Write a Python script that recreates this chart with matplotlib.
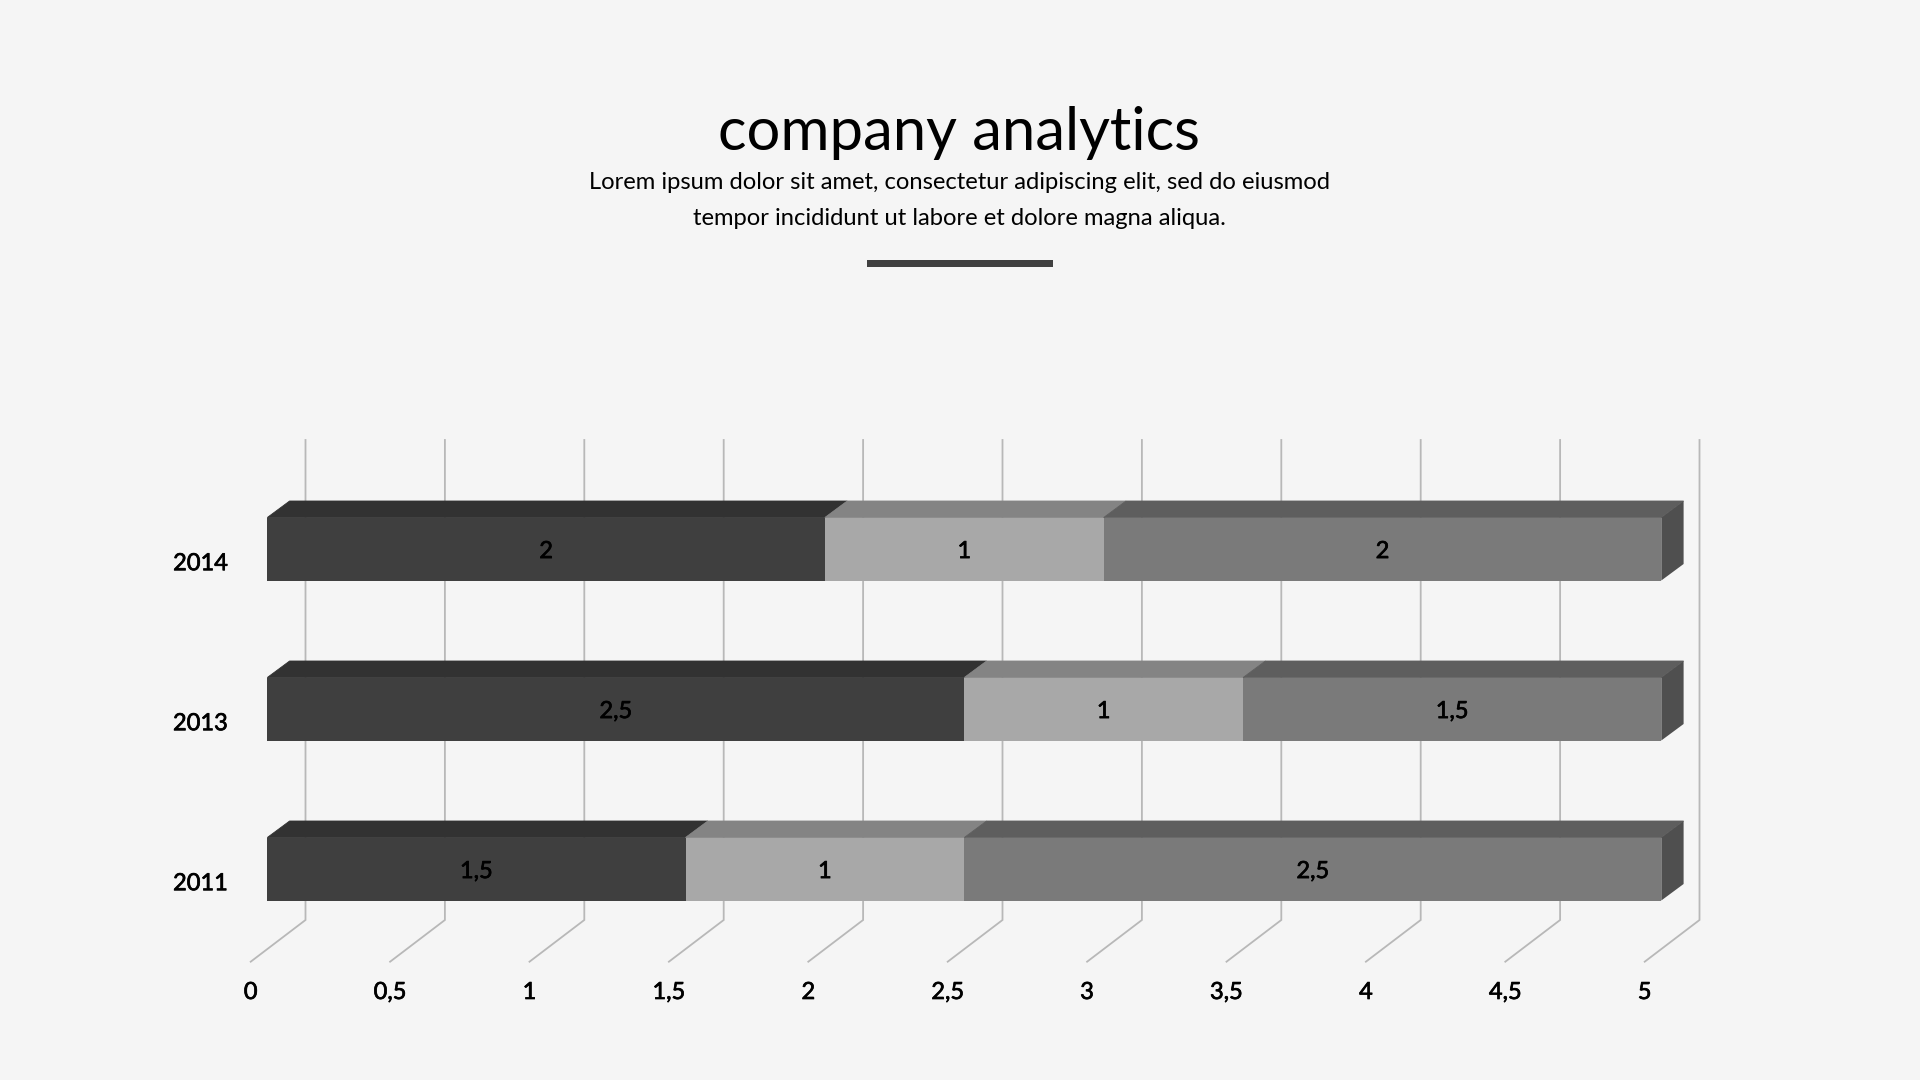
import matplotlib
matplotlib.use('Agg')
import matplotlib.pyplot as plt
import matplotlib.patheffects as pe
from matplotlib.patches import Polygon, Rectangle

years = ['2011', '2013', '2014']
series_a = [1.5, 2.5, 2]
series_b = [1, 1, 1]
series_c = [2.5, 1.5, 2]
tick_values = [0, 0.5, 1, 1.5, 2, 2.5, 3, 3.5, 4, 4.5, 5]

bg = '#f5f5f5'
front_cols = ['#3f3f3f', '#a8a8a8', '#7a7a7a']
top_cols = ['#323232', '#848484', '#5e5e5e']
side_col = '#4f4f4f'
grid_col = '#b8b8b8'

plt.rcParams['font.family'] = ['Lato', 'DejaVu Sans']

W, H = 1920, 1080
fig = plt.figure(figsize=(W / 100, H / 100), dpi=100, facecolor=bg)
ax = fig.add_axes([0, 0, 1, 1])
ax.set_axis_off()

# scales: x value 0 = px 267.3, 1 unit = 278.8 px / category 0 = px 869, 1 step = 160 px
ux, x0 = 278.8, 267.3
uy, y0 = 160.0, 869.0
ax.set_xlim((0 - x0) / ux, (W - x0) / ux)
ax.set_ylim((y0 - H) / uy, y0 / uy)

bar_h = 63 / uy
dep_x = 22.3 / ux
dep_y = 16.5 / uy
wall_x = 38.2 / ux
floor_x = -16.6 / ux
floor_y = (y0 - 961.7) / uy
wall_bottom = (y0 - 920) / uy
wall_top = (y0 - 440) / uy

# lato has no medium weight here, thin stroke thickens the labels
heavy = [pe.withStroke(linewidth=0.5, foreground='#000000')]

# walls and floor lines
for t in tick_values:
    ax.plot([t + floor_x, t + wall_x, t + wall_x], [floor_y, wall_bottom, wall_top],
            color=grid_col, lw=1.3, solid_joinstyle='miter', zorder=1)
    label = ('%g' % t).replace('.', ',')
    ax.text(t + floor_x, (y0 - 992.5) / uy, label, ha='center', va='center', fontsize=17,
            color='#000000', path_effects=heavy)

# bars
for i, year in enumerate(years):
    left = 0
    lo = i - bar_h / 2
    hi = i + bar_h / 2
    for k, v in enumerate([series_a[i], series_b[i], series_c[i]]):
        ax.add_patch(Polygon([(left, hi), (left + v, hi), (left + v + dep_x, hi + dep_y), (left + dep_x, hi + dep_y)],
                             facecolor=top_cols[k], edgecolor=top_cols[k], lw=0.6, zorder=2 + k))
        ax.add_patch(Rectangle((left, lo), v, bar_h, facecolor=front_cols[k], edgecolor='none', zorder=6))
        ax.text(left + v / 2, i - 0.016, ('%g' % v).replace('.', ','), ha='center', va='center',
                fontsize=17, color='#000000', zorder=8, path_effects=heavy)
        left += v
    ax.add_patch(Polygon([(left, lo), (left + dep_x, lo + dep_y), (left + dep_x, hi + dep_y), (left, hi)],
                         facecolor=side_col, edgecolor='none', zorder=6))
    ax.text((200.5 - x0) / ux, i - 0.092, year, ha='center', va='center', fontsize=17,
            color='#000000', path_effects=heavy)

# header
fig.text(959.5 / W, 1 - 149.5 / H, 'company analytics', ha='center', va='baseline', fontsize=43, color='#000000')
fig.text(959.5 / W, 1 - 189 / H, 'Lorem ipsum dolor sit amet, consectetur adipiscing elit, sed do eiusmod',
         ha='center', va='baseline', fontsize=17.1, color='#000000')
fig.text(959.5 / W, 1 - 225 / H, 'tempor incididunt ut labore et dolore magna aliqua.',
         ha='center', va='baseline', fontsize=17.1, color='#000000')
fig.add_artist(Rectangle((867 / W, 1 - 267 / H), 186 / W, 7.5 / H, transform=fig.transFigure,
                         facecolor='#404040', edgecolor='none'))

fig.savefig('out.png', dpi=100, facecolor=bg)
